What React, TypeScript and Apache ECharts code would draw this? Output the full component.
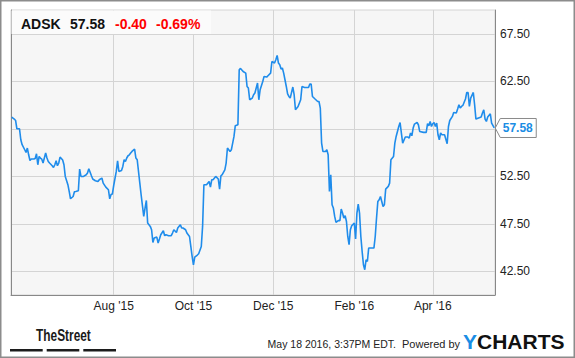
import React, { useEffect, useRef } from 'react';
import * as echarts from 'echarts';

const tickerSymbol = 'ADSK';
const changeAbs = '-0.40';
const changePct = '-0.69%';
const footerDate = 'May 18 2016, 3:37PM EDT.';
const poweredBy = 'Powered by';

const dates = [
  '2015-05-15','2015-05-17','2015-05-18','2015-05-19','2015-05-21','2015-05-22','2015-05-23','2015-05-25','2015-05-26','2015-05-27',
  '2015-05-28','2015-05-29','2015-05-30','2015-06-01','2015-06-02','2015-06-03','2015-06-04','2015-06-05','2015-06-06','2015-06-07',
  '2015-06-08','2015-06-10','2015-06-11','2015-06-12','2015-06-13','2015-06-15','2015-06-16','2015-06-17','2015-06-18','2015-06-19',
  '2015-06-20','2015-06-21','2015-06-23','2015-06-24','2015-06-25','2015-06-27','2015-06-28','2015-06-29','2015-07-01','2015-07-02',
  '2015-07-03','2015-07-05','2015-07-06','2015-07-07','2015-07-09','2015-07-11','2015-07-12','2015-07-13','2015-07-15','2015-07-16',
  '2015-07-18','2015-07-20','2015-07-21','2015-07-23','2015-07-24','2015-07-26','2015-07-28','2015-07-29','2015-07-30','2015-07-31',
  '2015-08-01','2015-08-03','2015-08-04','2015-08-05','2015-08-07','2015-08-08','2015-08-09','2015-08-10','2015-08-11','2015-08-12',
  '2015-08-13','2015-08-14','2015-08-15','2015-08-17','2015-08-18','2015-08-19','2015-08-21','2015-08-22','2015-08-23','2015-08-24',
  '2015-08-25','2015-08-26','2015-08-27','2015-08-29','2015-08-30','2015-08-31','2015-09-01','2015-09-03','2015-09-04','2015-09-05',
  '2015-09-06','2015-09-08','2015-09-09','2015-09-10','2015-09-12','2015-09-14','2015-09-15','2015-09-16','2015-09-18','2015-09-19',
  '2015-09-21','2015-09-22','2015-09-23','2015-09-25','2015-09-26','2015-09-28','2015-09-29','2015-09-30','2015-10-01','2015-10-02',
  '2015-10-04','2015-10-05','2015-10-07','2015-10-08','2015-10-09','2015-10-11','2015-10-13','2015-10-14','2015-10-15','2015-10-16',
  '2015-10-18','2015-10-20','2015-10-21','2015-10-22','2015-10-23','2015-10-25','2015-10-26','2015-10-27','2015-10-29','2015-10-30',
  '2015-10-31','2015-11-01','2015-11-02','2015-11-04','2015-11-05','2015-11-06','2015-11-08','2015-11-10','2015-11-11','2015-11-12',
  '2015-11-13','2015-11-15','2015-11-16','2015-11-17','2015-11-19','2015-11-20','2015-11-21','2015-11-23','2015-11-24','2015-11-26',
  '2015-11-27','2015-11-29','2015-11-30','2015-12-02','2015-12-03','2015-12-04','2015-12-05','2015-12-06','2015-12-07','2015-12-08',
  '2015-12-09','2015-12-10','2015-12-11','2015-12-12','2015-12-13','2015-12-14','2015-12-16','2015-12-17','2015-12-18','2015-12-20',
  '2015-12-22','2015-12-23','2015-12-25','2015-12-28','2015-12-29','2015-12-30','2015-12-31','2016-01-02','2016-01-04','2016-01-05',
  '2016-01-06','2016-01-07','2016-01-08','2016-01-10','2016-01-11','2016-01-12','2016-01-13','2016-01-14','2016-01-15','2016-01-16',
  '2016-01-17','2016-01-18','2016-01-20','2016-01-21','2016-01-22','2016-01-23','2016-01-24','2016-01-25','2016-01-26','2016-01-27',
  '2016-01-28','2016-01-29','2016-01-30','2016-02-01','2016-02-02','2016-02-03','2016-02-04','2016-02-05','2016-02-06','2016-02-07',
  '2016-02-08','2016-02-09','2016-02-10','2016-02-11','2016-02-12','2016-02-14','2016-02-16','2016-02-17','2016-02-18','2016-02-19',
  '2016-02-20','2016-02-21','2016-02-22','2016-02-23','2016-02-24','2016-02-25','2016-02-27','2016-02-28','2016-02-29','2016-03-02',
  '2016-03-03','2016-03-04','2016-03-06','2016-03-07','2016-03-08','2016-03-09','2016-03-11','2016-03-13','2016-03-14','2016-03-15',
  '2016-03-16','2016-03-17','2016-03-18','2016-03-20','2016-03-21','2016-03-22','2016-03-25','2016-03-27','2016-03-28','2016-03-29',
  '2016-03-30','2016-03-31','2016-04-01','2016-04-02','2016-04-03','2016-04-04','2016-04-05','2016-04-06','2016-04-07','2016-04-08',
  '2016-04-10','2016-04-12','2016-04-13','2016-04-14','2016-04-16','2016-04-17','2016-04-19','2016-04-20','2016-04-21','2016-04-22',
  '2016-04-23','2016-04-24','2016-04-26','2016-04-27','2016-04-28','2016-04-29','2016-04-30','2016-05-02','2016-05-03','2016-05-04',
  '2016-05-06','2016-05-08','2016-05-09','2016-05-10','2016-05-11','2016-05-12','2016-05-13','2016-05-15','2016-05-16','2016-05-18'
];

const prices = [
  58.73,58.52,58.37,57.50,57.50,56.34,55.82,55.29,55.01,55.47,
  54.76,54.16,54.31,54.31,54.37,54.87,53.71,54.58,54.42,54.31,
  53.89,54.94,54.42,54.06,53.89,53.61,53.43,53.71,54.13,53.61,
  53.89,54.52,54.21,53.71,52.48,51.61,50.90,50.13,50.37,50.87,
  50.90,50.97,53.26,52.48,52.48,52.66,52.84,53.29,52.55,52.21,
  52.03,51.95,52.13,52.31,51.78,51.36,51.08,50.13,50.58,50.63,
  51.50,53.01,54.13,53.01,53.11,53.53,54.24,54.06,54.42,54.66,
  54.76,54.94,55.11,55.36,54.42,54.24,51.78,50.55,49.40,48.27,
  49.15,49.95,47.57,47.22,46.87,45.53,45.99,46.10,45.47,45.89,
  46.34,46.76,46.24,46.34,46.24,46.24,46.52,46.87,46.58,47.05,
  47.40,47.05,47.05,46.87,46.52,46.16,45.11,44.06,43.18,43.99,
  44.21,44.34,45.11,47.22,51.61,51.61,51.95,51.36,52.13,52.13,
  52.48,52.21,51.15,52.55,52.66,53.18,53.89,55.47,55.11,55.29,
  55.99,56.69,57.82,57.92,63.71,63.85,63.53,63.36,61.95,61.78,
  60.55,60.73,61.08,61.26,62.31,60.55,61.61,62.48,63.01,62.94,
  63.08,63.36,64.58,64.42,64.76,65.22,64.42,64.24,63.78,63.89,
  63.36,62.66,61.95,61.18,60.90,60.73,61.89,61.08,59.50,59.85,
  60.55,61.95,61.85,61.85,62.21,62.21,60.90,60.63,60.37,60.37,
  59.68,55.99,55.11,55.11,55.29,54.76,50.90,52.66,49.50,49.15,
  48.27,47.64,47.85,47.82,49.05,48.63,48.10,48.34,47.74,46.16,
  45.29,46.87,47.29,47.57,45.89,48.63,49.57,48.63,46.16,44.58,
  43.18,42.66,43.71,43.53,44.94,44.94,44.94,46.16,48.10,49.85,
  50.03,50.37,49.85,49.32,49.50,51.15,51.43,51.78,54.24,54.58,
  55.99,56.69,57.74,58.16,57.05,55.99,56.63,56.63,56.52,57.05,
  56.76,57.57,57.99,58.16,57.92,57.22,57.12,57.12,58.03,57.82,
  58.27,57.74,58.03,58.16,57.74,58.10,56.87,56.34,57.05,56.87,
  56.87,55.92,57.74,58.37,58.80,59.22,59.15,59.57,60.03,59.68,
  59.85,59.95,60.63,61.32,61.32,59.85,60.73,61.32,60.03,58.52,
  58.63,58.73,59.15,59.50,58.52,58.27,58.73,59.08,58.10,57.58
];

// gridline positions; the 57.50 label is hidden behind the last-price callout in the reference
const yTicks = [42.5, 47.5, 52.5, 57.5, 62.5, 67.5];
const yLabelValues = [42.5, 47.5, 52.5, 62.5, 67.5];
const yRange = [40, 70];
const xTickDates = ['2015-08-01', '2015-10-01', '2015-12-01', '2016-02-01', '2016-04-01'];
const xTickLabels = ["Aug '15", "Oct '15", "Dec '15", "Feb '16", "Apr '16"];
const xRange = ['2015-05-14T12:00:00Z', '2016-05-18T14:00:00Z'];

const FONT = '"Liberation Sans", Arial, Helvetica, sans-serif';
const ts = (s: string) => Date.parse(s.length === 10 ? s + 'T00:00:00Z' : s);

export default function App() {
  const ref = useRef<HTMLDivElement>(null);
  useEffect(() => {
    if (!ref.current) return;
    const chart = echarts.init(ref.current, null, { renderer: 'svg' });
    const xTickTs = xTickDates.map(ts);
    const lastPrice = prices[prices.length - 1];
    const staticGraphics: any[] = [
      { type: 'rect', z: 100, silent: true, shape: { x: 0.75, y: 0.75, width: 573.5, height: 356.5 }, style: { fill: 'none', stroke: '#8c8c8c', lineWidth: 1.5 } },
      { type: 'rect', z: 100, shape: { x: 11.5, y: 10.5, width: 199.5, height: 23.5 }, style: { fill: '#fbfbfb' } },
      { type: 'text', z: 101, x: 21, y: 24, style: { text: tickerSymbol, fontFamily: FONT, fontWeight: 'bold', fontSize: 14, fill: '#111', verticalAlign: 'middle' } },
      { type: 'text', z: 101, x: 70, y: 24, style: { text: lastPrice.toFixed(2), fontFamily: FONT, fontWeight: 'bold', fontSize: 14, fill: '#111', verticalAlign: 'middle' } },
      { type: 'text', z: 101, x: 115, y: 24, style: { text: changeAbs, fontFamily: FONT, fontWeight: 'bold', fontSize: 14, fill: '#f00', verticalAlign: 'middle' } },
      { type: 'text', z: 101, x: 156, y: 24, style: { text: changePct, fontFamily: FONT, fontWeight: 'bold', fontSize: 14, fill: '#f00', verticalAlign: 'middle' } },
      { type: 'text', z: 101, x: 36, y: 335, scaleX: 0.7, style: { text: 'TheStreet', fontFamily: FONT, fontWeight: 'bold', fontSize: 17, fill: '#1a1a1a', verticalAlign: 'middle' } },
      { type: 'rect', z: 101, shape: { x: 10, y: 349, width: 32.7, height: 2.4 }, style: { fill: '#1c1c1c' } },
      { type: 'rect', z: 101, shape: { x: 46.7, y: 349, width: 32.6, height: 2.4 }, style: { fill: '#1c1c1c' } },
      { type: 'rect', z: 101, shape: { x: 83.3, y: 349, width: 32.7, height: 2.4 }, style: { fill: '#1c1c1c' } },
      { type: 'text', z: 101, x: 396, y: 344, style: { text: footerDate, fontFamily: FONT, fontSize: 10.5, fill: '#222', align: 'right', verticalAlign: 'middle' } },
      { type: 'text', z: 101, x: 402, y: 344, style: { text: poweredBy, fontFamily: FONT, fontSize: 11, fill: '#222', verticalAlign: 'middle' } },
      { type: 'text', z: 101, x: 463, y: 341, style: { text: '{y|Y}{c|CHARTS}', verticalAlign: 'middle', rich: {
        y: { fill: '#1a8de4', fontFamily: FONT, fontWeight: 'bold', fontSize: 21 },
        c: { fill: '#111', fontFamily: FONT, fontWeight: 'bold', fontSize: 21 } } } },
    ];
    const option: any = {
      animation: false,
      backgroundColor: '#fff',
      grid: { left: 11, top: 10, right: 80, bottom: 63, show: true, backgroundColor: '#f6f6f6', borderColor: '#d4d4d4', borderWidth: 1 },
      xAxis: {
        type: 'value', min: ts(xRange[0]), max: ts(xRange[1]),
        axisLine: { show: true, lineStyle: { color: '#888', width: 1 } },
        axisTick: { show: false, customValues: xTickTs },
        axisLabel: {
          customValues: xTickTs, color: '#222', fontSize: 12, fontFamily: FONT, margin: 5,
          formatter: (v: number) => { const i = xTickTs.findIndex(t => Math.abs(t - v) < 43200000); return i >= 0 ? xTickLabels[i] : ''; },
        },
        splitLine: { show: true, lineStyle: { color: '#d4d4d4', width: 1 } },
      },
      yAxis: [
        {
          type: 'value', position: 'right', min: yRange[0], max: yRange[1],
          axisLine: { show: true, lineStyle: { color: '#888', width: 1 } },
          axisTick: { show: false, customValues: yTicks },
          axisLabel: { customValues: yLabelValues, color: '#222', fontSize: 12, fontFamily: FONT, margin: 5, formatter: (v: number) => v.toFixed(2) },
          splitLine: { show: true, lineStyle: { color: '#d4d4d4', width: 1 } },
        },
        {
          type: 'value', position: 'left', min: yRange[0], max: yRange[1],
          axisLine: { show: true, lineStyle: { color: '#888', width: 1 } },
          axisTick: { show: false }, axisLabel: { show: false }, splitLine: { show: false },
        },
      ],
      series: [{
        type: 'line', yAxisIndex: 0, showSymbol: false, z: 3,
        data: dates.map((d, i) => [ts(d), prices[i]]),
        lineStyle: { color: '#1f8ceb', width: 1.6 }, itemStyle: { color: '#1f8ceb' },
      }],
      graphic: staticGraphics,
    };
    chart.setOption(option);
    const p = chart.convertToPixel({ seriesIndex: 0 }, [ts(dates[dates.length - 1]), lastPrice]) as number[];
    const px = p[0], py = p[1];
    chart.setOption({
      graphic: [
        ...staticGraphics,
        { type: 'polygon', z: 102, shape: { points: [[px + 1, py], [px + 6, py - 9.5], [px + 42, py - 9.5], [px + 42, py + 9.5], [px + 6, py + 9.5]] }, style: { fill: '#fff', stroke: '#8a8a8a', lineWidth: 1 } },
        { type: 'text', z: 103, x: px + 23.5, y: py, style: { text: lastPrice.toFixed(2), fontFamily: FONT, fontWeight: 'bold', fontSize: 12, fill: '#1a8de4', align: 'center', verticalAlign: 'middle' } },
      ],
    }, { replaceMerge: ['graphic'] });
    return () => chart.dispose();
  }, []);
  return <div ref={ref} style={{ position: 'fixed', left: 0, top: 0, width: 575, height: 358 }} />;
}
